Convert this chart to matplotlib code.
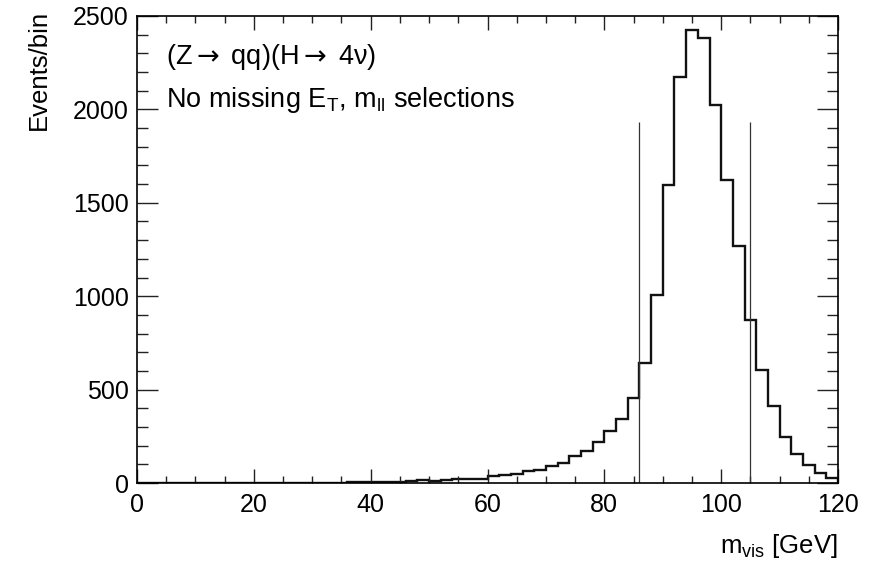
import numpy as np
import matplotlib
matplotlib.use("Agg")
import matplotlib.pyplot as plt
from matplotlib.ticker import MultipleLocator

plt.rcParams['font.family'] = ['Liberation Sans', 'DejaVu Sans']
plt.rcParams['mathtext.fontset'] = 'custom'
plt.rcParams['mathtext.rm'] = 'Liberation Sans'
plt.rcParams['mathtext.it'] = 'Liberation Sans'
plt.rcParams['mathtext.sf'] = 'DejaVu Sans'

# 2 GeV bins from 0 to 120
bin_edges = np.arange(0, 122, 2)
counts = [0, 0, 0, 0, 1, 0, 1, 1, 1, 2,
          1, 1, 2, 2, 2, 3, 3, 3, 4, 4,
          5, 7, 8, 10, 14, 12, 17, 20, 23, 24,
          38, 41, 51, 62, 72, 90, 106, 143, 173, 218,
          280, 341, 454, 645, 1008, 1593, 2174, 2423, 2383, 2022,
          1620, 1266, 870, 606, 413, 248, 155, 96, 55, 25]
cut_lo, cut_hi = 86, 105
cut_height = 1930

fig = plt.figure(figsize=(8.84, 5.67), dpi=100)
ax = fig.add_axes([0.155, 0.148, 0.793, 0.824])

ax.stairs(counts, bin_edges, color='#111111', lw=1.7, baseline=0)
ax.vlines([cut_lo, cut_hi], 0, cut_height, color='#333333', lw=0.9)

ax.set_xlim(0, 120)
ax.set_ylim(0, 2500)

ax.xaxis.set_major_locator(MultipleLocator(20))
ax.xaxis.set_minor_locator(MultipleLocator(5))
ax.yaxis.set_major_locator(MultipleLocator(500))
ax.yaxis.set_minor_locator(MultipleLocator(100))
ax.tick_params(axis='both', which='both', direction='in', top=True, right=True,
               labelsize=18, width=1, color='#222222')
ax.tick_params(axis='x', which='major', length=10, pad=7)
ax.tick_params(axis='x', which='minor', length=5)
ax.tick_params(axis='y', which='major', length=15, pad=6)
ax.tick_params(axis='y', which='minor', length=8)
for s in ax.spines.values():
    s.set_linewidth(1.2)

# axis titles placed like ROOT: right/top aligned
fig.text(27 / 884, 1 - 10 / 567, 'Events/bin', rotation=90, fontsize=18.5,
         ha='left', va='top')
fig.text(838 / 884, 1 - 553 / 567, r'm$_{\mathrm{vis}}$ [GeV]', fontsize=18.5,
         ha='right', va='baseline')

ax.text(0.042, 0.912, r'(Z$\mathsf{\rightarrow}$ qq)(H$\mathsf{\rightarrow}$ 4$\nu$)',
        transform=ax.transAxes, fontsize=19.5, va='center', ha='left')
ax.text(0.042, 0.82, r'No missing E$_{\mathrm{T}}$, m$_{\mathrm{ll}}$ selections',
        transform=ax.transAxes, fontsize=19.5, va='center', ha='left')

fig.savefig('out.png', dpi=100)
